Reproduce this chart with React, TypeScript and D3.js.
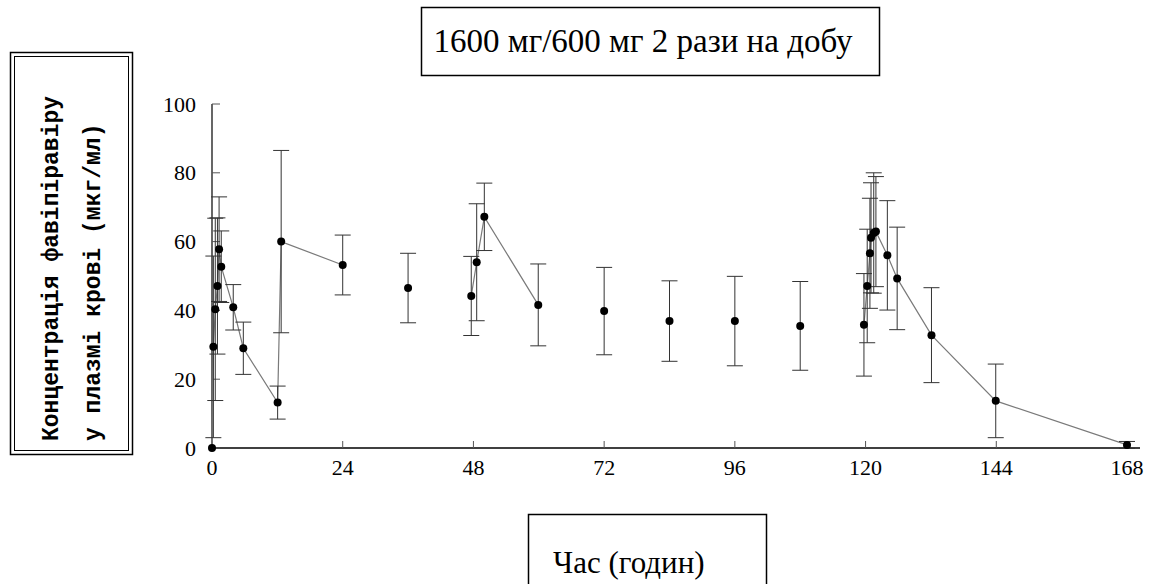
import * as d3 from "d3";

// час відбору (год), середнє та SD концентрації (мкг/мл)
const TIMES = [0, 0.25, 0.6, 1.0, 1.3, 1.7, 3.9, 5.75, 12.05, 12.7, 24, 36, 47.6, 48.6, 50.0, 59.9, 72, 84, 96, 108, 119.7, 120.3, 120.8, 121.0, 121.5, 121.9, 124, 125.8, 132.1, 143.9, 168];
const MEANS = [0, 29.4, 40.3, 47.1, 57.8, 52.7, 40.9, 29.0, 13.2, 60.0, 53.2, 46.5, 44.2, 54.0, 67.2, 41.6, 39.8, 36.9, 36.9, 35.5, 35.8, 47.1, 56.6, 61.1, 62.5, 62.9, 56.0, 49.3, 32.8, 13.7, 0.9];
const SDS = [0, 26.4, 26.5, 19.8, 15.2, 10.4, 6.6, 7.6, 4.8, 26.5, 8.7, 10.1, 11.5, 17.0, 9.8, 11.9, 12.7, 11.7, 13.0, 12.9, 14.9, 16.5, 16.0, 16.0, 17.5, 16.0, 15.9, 14.9, 13.8, 10.7, 1.0];
// profile each point belongs to (connected by a line); "" = trough only
const PROFILE = ["d1", "d1", "d1", "d1", "d1", "d1", "d1", "d1", "d1", "d1", "d1", "", "d3", "d3", "d3", "d3", "", "", "", "", "d6", "d6", "d6", "d6", "d6", "d6", "d6", "d6", "d6", "d6", "d6"];

const X_TICKS = [0, 24, 48, 72, 96, 120, 144, 168];
const Y_TICKS = [0, 20, 40, 60, 80, 100];

const TITLE = "1600 мг/600 мг 2 рази на добу";
const X_LABEL = "Час (годин)";
const Y_LABEL = ["Концентрація фавіпіравіру", "у плазмі крові (мкг/мл)"];

const W = 1153;
const H = 584;
const SERIF = "'Liberation Serif', 'Times New Roman', serif";
const MONO = "'Liberation Mono', 'Courier New', monospace";

export default function App() {
  const x = d3.scaleLinear().domain([0, 168]).range([212, 1127]);
  const y = d3.scaleLinear().domain([0, 100]).range([448, 104]);

  const points = TIMES.map((t, i) => ({ t, m: MEANS[i], sd: SDS[i], p: PROFILE[i] }));
  const profiles = d3.groups(points.filter((d) => d.p !== ""), (d) => d.p);
  const line = d3
    .line<{ t: number; m: number }>()
    .x((d) => x(d.t))
    .y((d) => y(d.m));

  return (
    <svg
      width={W}
      height={H}
      style={{ position: "absolute", left: 0, top: 0, display: "block", background: "#fff" }}
    >
      {/* title box */}
      <rect x={421.5} y={7.5} width={458} height={68} fill="#fff" stroke="#000" strokeWidth={1.5} />
      <text x={643} y={52} textAnchor="middle" fontFamily={SERIF} fontSize={33} fill="#000">
        {TITLE}
      </text>

      {/* y label double box */}
      <rect x={10.5} y={52.5} width={122} height={402} fill="none" stroke="#000" strokeWidth={1.5} />
      <rect x={14.5} y={56.5} width={114} height={394} fill="none" stroke="#000" strokeWidth={1} />
      {Y_LABEL.map((s, i) => (
        <text
          key={s}
          transform={`translate(${58 + i * 42}, 441) rotate(-90)`}
          fontFamily={MONO}
          fontWeight={700}
          fontSize={23}
          fill="#000"
        >
          {s}
        </text>
      ))}

      {/* x label box */}
      <rect x={528.5} y={514.5} width={238} height={80} fill="#fff" stroke="#000" strokeWidth={1.5} />
      <text x={553} y={573} fontFamily={SERIF} fontSize={31} fill="#000">
        {X_LABEL}
      </text>

      {/* axes */}
      <line x1={x(0)} x2={1140} y1={y(0)} y2={y(0)} stroke="#000" strokeWidth={1.5} />
      <line x1={x(0)} x2={x(0)} y1={y(0)} y2={y(100)} stroke="#000" strokeWidth={1.2} />
      {X_TICKS.map((t) => (
        <g key={t}>
          <line x1={x(t)} x2={x(t)} y1={y(0)} y2={y(0) - 7} stroke="#555" strokeWidth={1} />
          <text x={x(t)} y={475} textAnchor="middle" fontFamily={SERIF} fontSize={22} fill="#000">
            {t}
          </text>
        </g>
      ))}
      {Y_TICKS.map((v) => (
        <g key={v}>
          <line x1={x(0)} x2={x(0) + 8} y1={y(v)} y2={y(v)} stroke="#555" strokeWidth={1} />
          <text x={196} y={y(v) + 7.5} textAnchor="end" fontFamily={SERIF} fontSize={22} fill="#000">
            {v}
          </text>
        </g>
      ))}

      {/* profile lines */}
      {profiles.map(([key, pts]) => (
        <path key={key} d={line(pts) ?? ""} fill="none" stroke="#7a7a7a" strokeWidth={1.2} />
      ))}

      {/* error bars */}
      {points
        .filter((d) => d.sd > 0)
        .map((d, i) => (
          <g key={i} stroke="#333" strokeWidth={1}>
            <line x1={x(d.t)} x2={x(d.t)} y1={y(d.m - d.sd)} y2={y(d.m + d.sd)} />
            <line x1={x(d.t) - 8} x2={x(d.t) + 8} y1={y(d.m + d.sd)} y2={y(d.m + d.sd)} />
            <line x1={x(d.t) - 8} x2={x(d.t) + 8} y1={y(d.m - d.sd)} y2={y(d.m - d.sd)} />
          </g>
        ))}

      {/* means */}
      {points.map((d, i) => (
        <circle key={i} cx={x(d.t)} cy={y(d.m)} r={4} fill="#000" />
      ))}
    </svg>
  );
}
